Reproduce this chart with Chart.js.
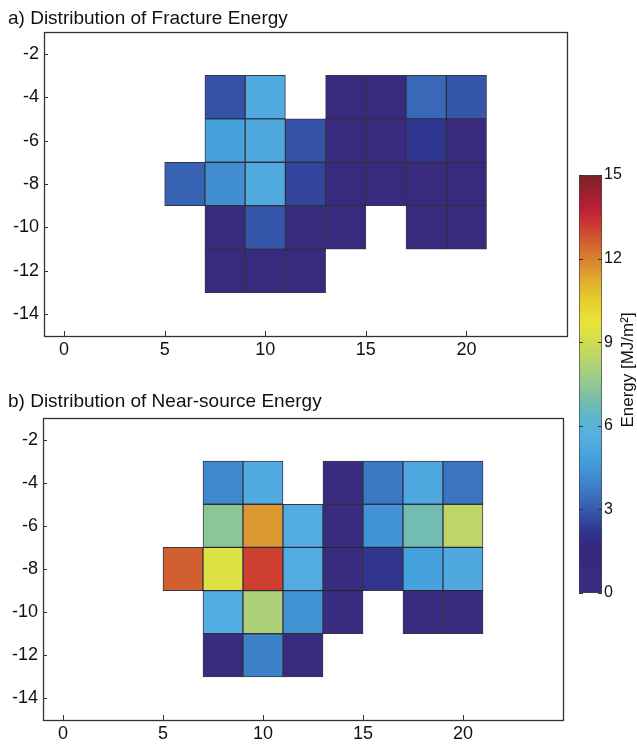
<!DOCTYPE html>
<html>
<head>
<meta charset="utf-8">
<script src="https://cdn.jsdelivr.net/npm/chart.js@4.4.1/dist/chart.umd.min.js"></script>
<style>
  html, body { margin: 0; padding: 0; background: #fff; }
  body { position: relative; width: 637px; height: 745px; overflow: hidden; }
  canvas { position: absolute; }
  #fracture { left: 0; top: 0; }
  #nearSource { left: 0; top: 375px; }
  #colorbar { left: 560px; top: 160px; }
</style>
</head>
<body>
<canvas id="fracture" width="575" height="370"></canvas>
<canvas id="nearSource" width="575" height="370"></canvas>
<canvas id="colorbar" width="77" height="450"></canvas>
<script>
// grid cell centres (along strike, depth)
const xCenters = [6, 8, 10, 12, 14, 16, 18, 20];
const yCenters = [-4, -6, -8, -10, -12];

// energy per cell [MJ/m2], rows follow yCenters, columns follow xCenters
const fractureEnergy = [
  [null, 2.8, 5.4, null, 0.9, 0.9, 3.3, 2.9],
  [null, 4.9, 5.3, 2.8, 0.9, 0.9, 2.2, 0.9],
  [3.2, 4.2, 5.4, 2.5, 0.9, 0.9, 1.0, 0.9],
  [null, 1.0, 2.9, 1.0, 1.0, null, 1.0, 1.0],
  [null, 1.0, 0.8, 1.0, null, null, null, null]
];
const nearSourceEnergy = [
  [null, 4.1, 5.4, null, 0.5, 3.7, 5.3, 3.6],
  [null, 7.4, 11.6, 5.5, 0.5, 4.4, 6.8, 8.5],
  [12.6, 9.4, 13.1, 5.5, 0.5, 2.1, 4.9, 5.3],
  [null, 5.5, 8.1, 4.4, 0.5, null, 0.5, 0.5],
  [null, 0.5, 3.9, 0.5, null, null, null, null]
];

const xTicks = [0, 5, 10, 15, 20];
const yTicks = [-2, -4, -6, -8, -10, -12, -14];
const cbTicks = [0, 3, 6, 9, 12, 15];
const energyMin = 0;
const energyMax = 15;

// colour map stops: [value, colour]
const cmap = [
  [0, '#3a2c80'], [1.6, '#36287c'], [2.2, '#2f3690'], [2.8, '#3452a6'],
  [3.4, '#3a6cbc'], [4.0, '#3e86cc'], [4.8, '#44a0dc'], [5.6, '#55aee2'],
  [6.3, '#5db6cc'], [7.0, '#7abfa6'], [8.0, '#a9d07e'], [9.0, '#d0dc50'],
  [9.7, '#e8e438'], [10.5, '#e8cc30'], [11.3, '#e0a830'], [12.0, '#d88030'],
  [12.7, '#d05a30'], [13.3, '#cc3232'], [13.9, '#b81e32'], [14.5, '#962030'],
  [15, '#7a2228']
];

const hexToRgb = (h) => [1, 3, 5].map((i) => parseInt(h.slice(i, i + 2), 16));

const colorFor = (v) => {
  for (let i = 1; i < cmap.length; i++) {
    if (v <= cmap[i][0]) {
      const [v0, c0] = cmap[i - 1];
      const [v1, c1] = cmap[i];
      const t = (v - v0) / (v1 - v0);
      const a = hexToRgb(c0), b = hexToRgb(c1);
      const rgb = a.map((x, k) => Math.round(x + (b[k] - x) * t));
      return `rgb(${rgb.join(',')})`;
    }
  }
  return cmap[cmap.length - 1][1];
};

const half = Math.abs(yCenters[1] - yCenters[0]) / 2;

const buildCells = (grid) => {
  const cells = [];
  grid.forEach((row, r) => {
    row.forEach((v, c) => {
      if (v === null) return;
      cells.push({ x: xCenters[c], y: [yCenters[r] - half, yCenters[r] + half], v: v });
    });
  });
  return cells;
};

const FONT = '"Liberation Sans", Arial, Helvetica, sans-serif';

const frameAndTicks = {
  id: 'frameAndTicks',
  afterDatasetsDraw(chart) {
    const { ctx, chartArea: a, scales: { x, y } } = chart;
    ctx.save();
    ctx.strokeStyle = '#333';
    ctx.lineWidth = 1;
    ctx.beginPath();
    x.ticks.forEach((t) => {
      const px = Math.round(x.getPixelForValue(t.value)) + 0.5;
      ctx.moveTo(px, a.bottom);
      ctx.lineTo(px, a.bottom - 5);
    });
    y.ticks.forEach((t) => {
      const py = Math.round(y.getPixelForValue(t.value)) + 0.5;
      ctx.moveTo(a.left, py);
      ctx.lineTo(a.left + 4, py);
    });
    ctx.stroke();
    ctx.strokeStyle = '#2e3436';
    ctx.lineWidth = 1.3;
    ctx.strokeRect(Math.round(a.left) + 0.5, Math.round(a.top) + 0.5, Math.round(a.width), Math.round(a.height));
    ctx.restore();
  }
};

// panel caption, left aligned to the figure edge
const panelTitle = {
  id: 'panelTitle',
  afterDraw(chart, args, opts) {
    const { ctx } = chart;
    ctx.save();
    ctx.fillStyle = '#111';
    ctx.font = '19px ' + FONT;
    ctx.textAlign = 'left';
    ctx.textBaseline = 'alphabetic';
    ctx.fillText(opts.text, opts.x, opts.y);
    ctx.restore();
  }
};

const createHeatmap = (id, grid, title, cfg) => {
  const cells = buildCells(grid);
  return new Chart(document.getElementById(id), {
    type: 'bar',
    data: {
      datasets: [{
        data: cells,
        backgroundColor: cells.map((c) => colorFor(c.v)),
        borderColor: 'rgba(20,20,40,0.85)',
        borderWidth: 1,
        borderSkipped: false,
        categoryPercentage: 1,
        barPercentage: 1
      }]
    },
    options: {
      responsive: false,
      animation: false,
      layout: { padding: cfg.padding },
      plugins: {
        legend: { display: false },
        tooltip: { enabled: false },
        title: { display: false },
        panelTitle: { text: title, x: 8, y: cfg.titleY }
      },
      scales: {
        x: {
          type: 'linear',
          min: -1,
          max: 25,
          offset: false,
          afterBuildTicks: (s) => { s.ticks = xTicks.map((v) => ({ value: v })); },
          afterFit: (s) => { s.height = cfg.xHeight; },
          grid: { display: false, drawTicks: false },
          border: { display: false },
          ticks: { color: '#111', padding: 3, font: { family: FONT, size: 18 }, maxRotation: 0 }
        },
        y: {
          type: 'linear',
          min: -15,
          max: -1,
          beginAtZero: false,
          afterBuildTicks: (s) => { s.ticks = yTicks.map((v) => ({ value: v })); },
          afterFit: (s) => { s.width = cfg.yWidth; },
          grid: { display: false, drawTicks: false },
          border: { display: false },
          ticks: { color: '#111', padding: 5, font: { family: FONT, size: 18 } }
        }
      }
    },
    plugins: [frameAndTicks, panelTitle]
  });
};

createHeatmap('fracture', fractureEnergy, 'a) Distribution of Fracture Energy', {
  padding: { left: 0, right: 8, top: 32, bottom: 0 },
  titleY: 24,
  xHeight: 34,
  yWidth: 44
});

createHeatmap('nearSource', nearSourceEnergy, 'b) Distribution of Near-source Energy', {
  padding: { left: 0, right: 12, top: 43, bottom: 0 },
  titleY: 32,
  xHeight: 25,
  yWidth: 43
});

const colorbarDecor = {
  id: 'colorbarDecor',
  afterDatasetsDraw(chart) {
    const { ctx, chartArea: a, scales: { y } } = chart;
    ctx.save();
    ctx.strokeStyle = '#333';
    ctx.lineWidth = 1;
    ctx.beginPath();
    y.ticks.forEach((t) => {
      const py = Math.round(y.getPixelForValue(t.value)) + 0.5;
      ctx.moveTo(a.left, py);
      ctx.lineTo(a.left + 4, py);
      ctx.moveTo(a.right, py);
      ctx.lineTo(a.right - 4, py);
    });
    ctx.stroke();
    ctx.translate(68, 210);
    ctx.rotate(-Math.PI / 2);
    ctx.fillStyle = '#111';
    ctx.font = '17px ' + FONT;
    ctx.textAlign = 'center';
    ctx.textBaseline = 'middle';
    ctx.fillText('Energy [MJ/m²]', 0, 0);
    ctx.restore();
  }
};

new Chart(document.getElementById('colorbar'), {
  type: 'bar',
  data: {
    labels: ['Energy'],
    datasets: [{
      data: [[energyMin, energyMax]],
      backgroundColor: (ctx) => {
        const chart = ctx.chart;
        if (!chart.chartArea) return cmap[0][1];
        const y = chart.scales.y;
        const g = chart.ctx.createLinearGradient(0, y.getPixelForValue(energyMin), 0, y.getPixelForValue(energyMax));
        cmap.forEach(([v, c]) => g.addColorStop((v - energyMin) / (energyMax - energyMin), c));
        return g;
      },
      borderColor: '#444',
      borderWidth: 1,
      borderSkipped: false,
      categoryPercentage: 1,
      barPercentage: 1
    }]
  },
  options: {
    responsive: false,
    animation: false,
    layout: { padding: { left: 19, right: 0, top: 15, bottom: 17 } },
    plugins: { legend: { display: false }, tooltip: { enabled: false } },
    scales: {
      x: { display: false },
      y: {
        position: 'right',
        min: energyMin,
        max: energyMax,
        afterBuildTicks: (s) => { s.ticks = cbTicks.map((v) => ({ value: v })); },
        afterFit: (s) => { s.width = 35; },
        grid: { display: false, drawTicks: false },
        border: { display: false },
        ticks: { color: '#111', padding: 2, font: { family: FONT, size: 16 } }
      }
    }
  },
  plugins: [colorbarDecor]
});
</script>
</body>
</html>
